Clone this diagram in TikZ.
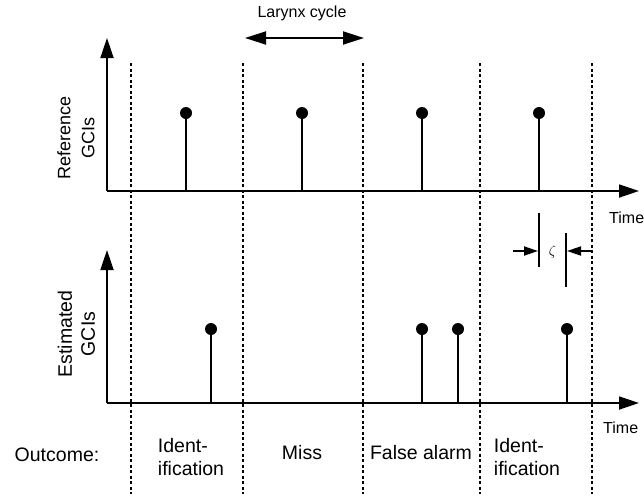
\documentclass[tikz,border=0pt]{standalone}
\usepackage{fontspec}
\setmainfont{Liberation Sans}
\usetikzlibrary{arrows.meta}
\begin{document}
\begin{tikzpicture}[x=1pt,y=-1pt,
  axis/.style={line width=1.8pt,-{Triangle[length=20pt,width=13pt]}},
  stem/.style={line width=1.5pt},
  ball/.style={circle,fill=black,inner sep=0pt,minimum size=12pt},
  divider/.style={line width=1.5pt,dash pattern=on 3pt off 2.5pt},
  lbl/.style={font=\fontsize{19.5}{23}\selectfont,inner sep=0pt},
  small/.style={font=\fontsize{16}{19}\selectfont,inner sep=0pt},
  marker/.style={line width=1.8pt},
  pointer/.style={line width=1.8pt,-{Triangle[length=14pt,width=9pt]}},
  span/.style={line width=1.8pt,{Triangle[length=21pt,width=13pt]}-{Triangle[length=21pt,width=13pt]}}
]
\useasboundingbox (0,0) rectangle (644,498);

% cycle boundaries
\foreach \x [count=\i] in {131,243,363,480,592}{
  \coordinate (dt\i) at (\x,63);
  \coordinate (db\i) at (\x,494);
  \draw[divider] (dt\i) -- (db\i);
}

% reference axes
\coordinate (ro) at (107,191);
\coordinate (ry) at (107,38);
\coordinate (rx) at (639,191);
\draw[axis] (ro) -- (ry);
\draw[axis] (ro) -- (rx);

% estimated axes
\coordinate (eo) at (107,403);
\coordinate (ey) at (107,250);
\coordinate (ex) at (639,403);
\draw[axis] (eo) -- (ey);
\draw[axis] (eo) -- (ex);

% reference GCIs
\foreach \x [count=\i] in {186,302,422,539}{
  \coordinate (rb\i) at (\x,191);
  \node[ball] (r\i) at (\x,113) {};
  \draw[stem] (rb\i) -- (r\i.center);
}

% estimated GCIs
\foreach \x [count=\i] in {211,422,458,567}{
  \coordinate (eb\i) at (\x,403);
  \node[ball] (e\i) at (\x,329) {};
  \draw[stem] (eb\i) -- (e\i.center);
}

% axis labels
\node[font=\fontsize{18}{24}\selectfont,inner sep=0pt,rotate=90,align=center] (reflbl) at (76,138) {Reference\\GCIs};
\node[lbl,rotate=90,align=center] (estlbl) at (76.5,334) {Estimated\\GCIs};
\node[small,anchor=base west] (time1) at (609,223) {Time};
\node[small,anchor=base west] (time2) at (603,433) {Time};

% larynx cycle
\node[small,anchor=base] (larynx) at (302,17.5) {Larynx cycle};
\coordinate (la) at (245,38);
\coordinate (lb) at (364,38);
\draw[span] (la) -- (lb);

% tolerance zeta
\coordinate (z1t) at (539,213);
\coordinate (z1b) at (539,267);
\coordinate (z2t) at (566,233);
\coordinate (z2b) at (566,287);
\draw[marker] (z1t) -- (z1b);
\draw[marker] (z2t) -- (z2b);
\coordinate (zl0) at (513,251);
\coordinate (zl1) at (538,251);
\coordinate (zr0) at (592,251);
\coordinate (zr1) at (567,251);
\draw[pointer] (zl0) -- (zl1);
\draw[pointer] (zr0) -- (zr1);
\node[font=\fontsize{15}{18}\selectfont,inner sep=0pt] (zeta) at (552.5,252) {$\zeta$};

% outcomes
\node[lbl,anchor=base] (outcome) at (57,461.5) {Outcome:};
\node[lbl,align=left] (o1) at (191,457) {Ident-\\ification};
\node[lbl,anchor=base] (o2) at (302,459) {Miss};
\node[lbl,anchor=base] (o3) at (421,459) {False alarm};
\node[lbl,align=left] (o4) at (527,457) {Ident-\\ification};
\end{tikzpicture}
\end{document}
